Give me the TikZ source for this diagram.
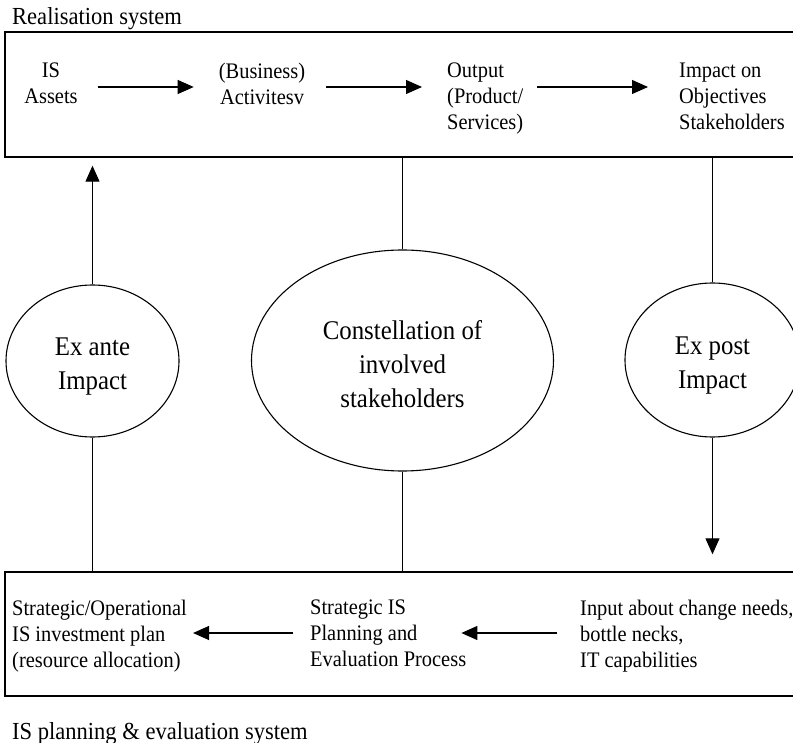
\documentclass[tikz,border=0pt]{standalone}
\usepackage{fontspec}
\setmainfont{Liberation Serif}[FakeStretch=0.92]
\usetikzlibrary{arrows.meta,shapes.geometric,calc}
\begin{document}
\begin{tikzpicture}[x=1pt,y=-1pt,
  boxtext/.style={inner sep=0pt,font=\fontsize{22.2}{26}\selectfont},
  titletext/.style={inner sep=0pt,font=\fontsize{24.5}{26}\selectfont,anchor=base west},
  oval/.style={ellipse,draw,line width=1.1pt,inner sep=0pt},
  ovallabel/.style={inner sep=0pt,align=center,font=\fontsize{27}{34}\selectfont},
  sysbox/.style={draw,line width=1.4pt,inner sep=0pt},
  conn/.style={line width=1.1pt},
  arr/.style={line width=1.1pt,-{Triangle[length=16pt,width=14pt]}}]
\useasboundingbox[fill=white] (0,0) rectangle (793,743);

% system boxes
\node[sysbox,minimum width=795pt,minimum height=125pt] (realbox) at (402.5,94.5) {};
\node[sysbox,minimum width=795pt,minimum height=124pt] (planbox) at (402.5,634) {};

% titles
\node[titletext] (realtitle) at (12,25) {Realisation system};
\node[titletext] (plantitle) at (12,739) {IS planning \& evaluation system};

% top row texts
\node[boxtext,align=center,anchor=north] (assets) at (51,62.5) {IS\\Assets};
\node[boxtext,align=center,anchor=north] (activities) at (262,62.5) {(Business)\\Activitesv};
\node[boxtext,align=left,anchor=north west] (output) at (447,62.5) {Output\\(Product/\\Services)};
\node[boxtext,align=left,anchor=north west] (impact) at (679,62.5) {Impact on\\Objectives\\Stakeholders};
\coordinate (row1) at (0,87);
\draw[arr,shorten <=20pt,shorten >=25pt] (assets.east |- row1) -- (activities.west |- row1);
\draw[arr,shorten <=21pt,shorten >=25pt] (activities.east |- row1) -- (output.west |- row1);
\draw[arr,shorten <=14pt,shorten >=31pt] (output.east |- row1) -- (impact.west |- row1);

% bottom row texts
\node[boxtext,align=left,anchor=north west] (plan) at (12,599.5) {Strategic/Operational\\IS investment plan\\(resource allocation)};
\node[boxtext,align=left,anchor=north west] (process) at (310,599.5) {Strategic IS\\Planning and\\Evaluation Process};
\node[boxtext,align=left,anchor=north west] (input) at (580,599.5) {Input about change needs,\\bottle necks,\\IT capabilities};
\coordinate (row2) at (0,633);
\draw[arr,shorten <=17pt,shorten >=6pt] (process.west |- row2) -- (plan.east |- row2);
\draw[arr,shorten <=23pt,shorten >=-5pt] (input.west |- row2) -- (process.east |- row2);

% ovals
\node[oval,minimum width=173pt,minimum height=152pt] (exante) at (92.5,361) {};
\node[oval,minimum width=302pt,minimum height=221pt] (stake) at (402.5,360.5) {};
\node[oval,minimum width=175pt,minimum height=154pt] (expost) at (712.5,360) {};
\node[ovallabel] (exantelbl) at ([yshift=-6pt]exante.center) {Ex ante\\Impact};
\node[ovallabel] (stakelbl) at ([yshift=-4pt]stake.center) {Constellation of\\involved\\stakeholders};
\node[ovallabel] (expostlbl) at ([yshift=-6pt]expost.center) {Ex post\\Impact};

% connectors
\draw[arr,shorten >=8pt] (exante.north) -- (exante.north |- realbox.south);
\draw[conn] (exante.south) -- (exante.south |- planbox.north);
\draw[conn] (stake.north) -- (stake.north |- realbox.south);
\draw[conn] (stake.south) -- (stake.south |- planbox.north);
\draw[conn] (expost.north) -- (expost.north |- realbox.south);
\draw[arr,shorten >=17pt] (expost.south) -- (expost.south |- planbox.north);
\end{tikzpicture}
\end{document}
